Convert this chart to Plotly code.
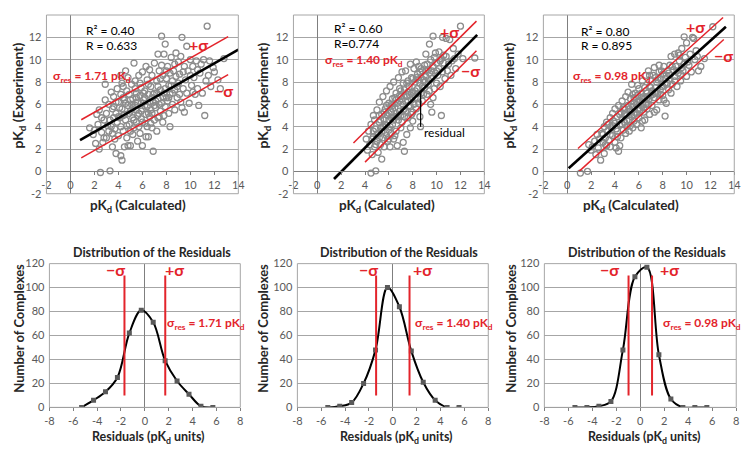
import plotly.graph_objects as go

# ---------------- data: scatter panels (pKd calculated vs experiment) ----------------
calc_1 = [1.6,1.9,2.0,2.1,2.2,2.3,2.4,2.5,2.6,2.4,2.8,2.7,2.9,2.9,2.8,
          3.0,3.1,3.2,3.3,3.2,3.4,3.5,3.5,3.6,3.7,3.6,3.8,3.8,3.9,3.9,4.0,4.0,3.7,3.3,3.5,
          4.1,4.2,4.2,4.3,4.3,4.4,4.4,4.5,4.5,4.6,4.6,4.7,4.7,4.8,4.8,4.9,4.9,5.0,5.0,5.0,4.6,4.4,4.2,4.8,
          5.1,5.2,5.2,5.3,5.3,5.4,5.4,5.5,5.5,5.6,5.6,5.7,5.7,5.8,5.8,5.9,5.9,6.0,6.0,6.0,5.5,5.2,5.9,
          6.1,6.2,6.2,6.3,6.3,6.4,6.4,6.5,6.5,6.6,6.6,6.7,6.7,6.8,6.8,6.9,6.9,7.0,7.0,7.0,6.5,6.2,6.8,
          7.1,7.2,7.2,7.3,7.3,7.4,7.4,7.5,7.5,7.6,7.6,7.7,7.7,7.8,7.8,7.9,7.9,8.0,8.0,7.3,
          8.1,8.2,8.2,8.3,8.3,8.4,8.5,8.5,8.6,8.7,8.7,8.8,8.8,8.9,9.0,9.0,
          9.1,9.2,9.2,9.3,9.3,9.4,9.5,9.5,9.6,9.7,9.7,9.8,9.9,10.0,10.0,
          10.1,10.2,10.3,10.4,10.5,10.6,10.7,10.8,10.9,11.0,11.1,11.2,11.3,
          11.4,11.5,11.7,11.9,12.0,12.3,12.8,11.6,12.5,
          4.1,4.3,4.5,4.7,4.9,5.1,5.3,5.5,5.7,5.9,6.1,6.3,6.5,6.7,6.9,7.1,7.3,7.5,7.7,7.9,
          8.1,8.3,8.5,8.7,8.9,3.4,3.6,3.8,4.0,4.2,5.0,5.2,5.4,5.6,5.8,6.0,6.2,6.4,6.6,6.8,
          7.0,7.2,7.4,7.6,7.8,8.0,8.2,8.4,9.1,9.4,10.2,10.6,3.0,2.6,4.4]
exp_1 = [3.9,3.3,3.7,2.5,5.1,4.2,2.0,-0.1,3.5,5.5,4.6,2.6,7.8,6.4,3.0,
         5.2,4.1,3.6,0.05,6.0,7.1,5.6,2.2,4.8,3.8,6.7,5.2,1.6,4.4,7.4,3.2,6.2,2.9,4.6,3.4,
         5.7,4.0,1.4,1.0,7.9,6.6,3.6,5.1,2.2,9.0,4.6,7.2,3.0,5.9,8.4,4.2,6.9,2.3,5.4,3.6,6.1,5.0,8.6,2.3,
         7.8,4.8,6.5,9.7,3.9,5.9,8.1,4.4,7.0,2.7,6.2,5.2,8.6,3.4,6.8,4.7,7.5,5.6,2.3,8.9,5.5,5.7,6.1,
         6.4,4.3,7.2,3.1,9.4,5.8,8.2,3.1,6.9,4.9,9.1,5.5,7.6,3.9,8.6,6.2,1.8,4.6,7.0,9.7,5.2,5.9,6.6,
         5.7,8.1,3.6,6.5,10.5,4.9,9.0,7.3,5.4,12.1,6.1,8.6,4.4,10.5,7.0,5.8,11.4,6.6,8.3,7.6,
         9.4,5.2,7.7,4.0,6.9,10.2,8.1,6.0,9.0,7.3,5.5,10.6,8.5,6.6,9.8,7.9,
         8.7,6.2,10.3,12.0,5.7,7.4,9.4,5.3,8.2,11.2,7.0,9.0,6.1,8.6,10.0,
         7.7,9.4,8.4,6.9,9.9,7.4,5.9,8.8,9.6,7.0,10.0,5.0,8.1,
         13.0,8.6,7.6,9.3,8.9,8.2,10.1,9.9,7.4,
         4.8,5.6,6.4,4.1,5.2,6.0,4.6,6.6,4.0,5.4,7.0,5.1,7.8,4.3,6.9,6.3,4.8,8.3,6.7,7.4,
         6.3,8.8,7.0,9.6,7.6,4.0,5.8,6.2,4.9,6.9,6.4,3.3,7.4,5.0,7.9,4.4,6.6,4.0,6.2,5.2,
         5.9,7.0,6.0,9.5,5.0,9.0,6.6,7.7,6.9,8.9,7.1,9.1,3.0,4.8,7.6]

calc_2 = [4.1,4.2,4.3,4.4,4.5,4.5,4.6,4.7,4.7,4.8,4.9,4.9,5.0,5.0,4.6,4.8,
          5.1,5.1,5.2,5.2,5.3,5.3,5.4,5.4,5.5,5.5,5.6,5.6,5.7,5.7,5.8,5.8,5.9,5.9,6.0,6.0,5.2,5.5,5.8,6.0,
          6.1,6.1,6.2,6.2,6.3,6.3,6.4,6.4,6.5,6.5,6.6,6.6,6.7,6.7,6.8,6.8,6.9,6.9,7.0,7.0,6.3,6.6,6.9,7.0,6.2,6.5,
          7.1,7.1,7.2,7.2,7.3,7.3,7.4,7.4,7.5,7.5,7.6,7.6,7.7,7.7,7.8,7.8,7.9,7.9,8.0,8.0,7.3,7.6,7.9,7.2,
          8.1,8.65,8.2,8.2,8.3,8.3,8.4,8.4,8.5,8.5,8.6,8.6,8.7,8.7,8.8,8.8,8.9,9.0,9.0,8.5,
          9.1,9.1,9.2,9.3,9.3,9.4,9.4,9.5,9.5,9.6,9.6,9.7,9.7,9.8,9.9,9.9,10.0,10.0,
          10.1,10.2,10.2,10.3,10.4,10.4,10.5,10.6,10.7,10.8,10.8,10.9,11.0,10.5,
          11.1,11.2,11.3,11.5,11.6,11.8,12.0,12.2,11.4,13.2,
          5.0,5.2,5.4,5.6,5.8,6.0,6.2,6.4,6.6,6.8,7.0,7.2,7.4,7.6,7.8,8.0,8.2,8.4,8.6,8.8,
          9.0,9.2,9.4,9.6,9.8,10.0,10.3,10.6,5.3,5.7,6.1,6.3,6.7,6.9,7.1,7.3,7.5,7.7,7.9,8.1,
          8.3,8.5,8.7,8.9,9.1,9.3,4.7,4.9,6.5,6.0,8.0,9.7]
exp_2 = [2.9,1.9,3.6,2.4,-0.15,4.2,1.5,3.1,5.0,2.2,0.05,3.8,2.7,5.5,2.9,4.6,
         3.4,1.7,4.4,6.2,2.4,3.9,5.1,1.1,3.0,6.7,4.6,2.2,5.6,3.5,7.2,4.1,2.7,5.0,6.1,3.7,3.0,4.0,5.9,4.6,
         7.6,2.2,5.3,3.4,6.5,4.2,8.0,2.9,5.7,4.9,7.0,3.6,6.1,2.3,4.6,8.4,5.4,7.4,3.9,6.7,5.6,5.2,6.3,5.0,4.8,6.6,
         8.9,4.4,6.0,2.6,1.8,7.3,5.4,9.0,3.3,6.7,8.1,4.8,5.9,7.6,9.6,3.9,6.4,8.4,5.3,7.1,5.6,6.3,7.0,7.9,
         9.2,4.0,6.6,8.0,9.8,5.6,7.4,8.7,6.1,9.4,7.9,4.9,8.4,7.0,9.0,6.3,8.2,9.5,7.5,8.2,
         10.5,8.5,6.9,9.1,7.8,11.4,8.8,6.0,10.0,5.3,8.3,12.1,9.4,7.4,10.6,8.8,9.7,7.9,
         8.6,10.7,9.2,7.6,5.0,10.1,8.9,9.7,8.3,11.9,10.3,9.0,9.6,12.0,
         11.8,8.6,9.9,10.1,9.2,10.5,13.0,10.1,11.0,10.15,
         3.3,5.0,3.6,5.3,3.2,5.2,6.0,4.6,6.4,5.0,7.2,5.5,6.3,7.1,5.8,8.3,7.2,6.5,8.9,7.6,
         8.0,9.6,7.2,9.0,10.2,9.0,9.9,10.4,4.6,4.2,4.0,5.9,4.9,6.8,6.5,4.9,7.9,6.9,5.1,6.0,
         8.4,7.0,9.2,6.9,9.0,8.2,3.6,2.4,3.2,2.9,4.5,6.6]

calc_3 = [1.1,1.7,1.8,2.0,2.1,2.3,2.4,2.5,2.6,
          2.7,2.8,2.9,3.0,3.1,3.2,3.3,3.3,3.4,3.5,3.6,3.6,3.7,3.8,3.8,
          3.9,4.0,4.0,4.1,4.2,4.2,4.3,4.3,4.4,4.5,4.5,4.6,4.6,4.7,4.8,4.8,4.9,4.9,5.0,5.0,4.4,
          5.1,5.1,5.2,5.2,5.3,5.3,5.4,5.4,5.5,5.5,5.6,5.6,5.7,5.7,5.8,5.8,5.9,5.9,6.0,6.0,5.4,5.6,
          6.1,6.1,6.2,6.2,6.3,6.3,6.4,6.4,6.5,6.5,6.6,6.6,6.7,6.7,6.8,6.8,6.9,6.9,7.0,7.0,6.2,6.5,
          7.1,7.1,7.2,7.3,7.3,7.4,7.5,7.5,7.6,7.7,7.7,7.8,7.9,7.9,8.0,8.0,7.4,7.8,
          8.1,8.2,8.2,8.3,8.3,8.4,8.5,8.6,8.6,8.7,8.8,8.9,9.0,9.0,8.5,
          9.1,9.2,9.3,9.3,9.4,9.5,9.6,9.7,9.8,9.8,9.9,10.0,10.0,
          10.2,10.3,10.4,10.6,10.7,10.8,11.0,11.2,11.5,12.2,10.5,
          3.0,3.2,3.4,3.6,3.8,4.0,4.2,4.4,4.6,4.8,5.0,5.2,5.4,5.6,5.8,6.0,6.2,6.4,6.6,6.8,
          7.0,7.2,7.4,7.6,7.8,8.0,8.2,8.4,8.6,8.8,9.0,9.2,9.4,9.6,3.1,4.1,4.7,5.3,5.9,6.3,
          6.9,7.3,7.7,8.1,8.7,9.5,10.1,10.9,5.5,6.7]
exp_3 = [-0.15,0.0,2.4,1.9,2.2,2.7,1.5,3.3,2.1,
         2.9,1.0,3.4,2.6,4.0,3.0,2.3,4.4,3.6,2.8,4.8,2.2,3.9,5.2,3.2,
         4.5,2.6,5.6,3.8,4.9,3.1,1.8,5.9,4.2,5.3,3.0,4.7,6.3,3.7,5.6,4.4,6.7,3.4,5.0,4.0,2.3,
         5.9,7.1,4.6,3.6,5.4,6.5,4.9,7.8,5.8,3.9,6.2,4.5,7.0,5.3,6.0,4.2,6.8,5.6,7.4,4.8,6.0,5.1,
         6.3,5.5,3.9,7.0,6.1,8.1,5.3,6.7,7.5,4.6,6.0,8.6,7.0,5.6,6.4,9.0,7.6,5.1,6.8,8.2,5.9,6.5,
         7.2,5.9,8.6,6.6,9.3,7.5,5.5,8.0,7.0,9.5,6.4,8.3,7.6,9.0,6.8,8.7,8.4,7.3,
         9.4,4.95,7.9,8.6,6.1,9.0,7.3,9.5,8.2,10.3,7.8,9.1,8.5,10.5,8.8,
         9.4,7.6,10.6,8.8,9.9,8.1,11.0,9.0,12.05,9.6,10.2,8.5,11.5,
         9.5,10.5,8.9,11.9,10.0,10.8,9.0,9.4,10.1,12.95,12.0,
         3.3,2.4,4.2,3.3,4.1,4.3,3.6,5.1,4.2,5.1,4.6,5.6,5.3,6.6,5.2,6.2,6.6,5.7,7.2,6.0,
         7.5,6.9,7.0,8.2,6.9,7.6,8.3,7.9,8.6,9.4,8.1,9.0,10.4,9.3,1.6,2.1,5.7,4.1,7.7,4.5,
         8.6,5.3,8.9,6.4,7.0,8.7,9.8,10.3,6.9,6.6]

# regression line (black) and +/- sigma lines (red): endpoints
fit_x = [[0.8, 14.0], [1.4, 13.4], [0.12, 13.3]]
fit_y = [[2.8, 10.9], [-0.68, 12.22], [0.28, 12.94]]
up_x = [[0.9, 13.15], [3.03, 13.34], [0.9, 13.06]]
up_y = [[4.62, 12.07], [2.54, 13.45], [2.05, 13.78]]
lo_x = [[0.9, 13.15], [4.0, 13.34], [0.97, 13.12]]
lo_y = [[1.2, 8.66], [0.83, 10.8], [-0.02, 11.8]]

r2_text = ["R² = 0.40", "R² = 0.60", "R² = 0.80"]
r_text = ["R = 0.633", "R=0.774", "R = 0.895"]
sigma_vals = ["1.71", "1.40", "0.98"]
sigma_num = [1.71, 1.40, 0.98]

# residual illustration (panel 2)
resid_x = [8.66, 8.66]
resid_y = [4.0, 7.1]

# ---------------- data: residual distributions ----------------
bins_1 = [-5.3,-4.3,-3.3,-2.3,-1.3,-0.3,0.7,1.7,2.7,3.7,4.7,5.7]
count_1 = [0,6,13,25,62,81,71,39,22,11,1,0]
bins_2 = [-5.45,-4.45,-3.45,-2.45,-1.45,-0.45,0.55,1.55,2.55,3.55,4.55,5.55]
count_2 = [0,1,4,20,48,100,84,47,21,6,0,0]
bins_3 = [-5.45,-4.45,-3.45,-2.45,-1.45,-0.45,0.55,1.55,2.55,3.55,4.55,5.55]
count_3 = [0,0,1,5,48,109,117,44,7,0,0,0]

top_ticks = [-2,0,2,4,6,8,10,12,14]
top_ticktext = ["-2","0","2","4","6","8","10","12","14"]
bot_xticks = [-8,-6,-4,-2,0,2,4,6,8]
bot_xticktext = ["-8","-6","-4","-2","0","2","4","6","8"]
bot_yticks = [0,20,40,60,80,100,120]

# ---------------- styling ----------------
W, H = 750, 452
OFF = 8  # page body margin offset of the figure in the browser
FONT = "Lato, 'Open Sans', sans-serif"
RED = "#e3242b"
GRID = "#a6a6a6"
AXIS = "#7f7f7f"
TICKC = "#595959"
TITLEC = "#262626"

def px_x(p):
    return min(1.0, max(0.0, (p - OFF) / W))

def px_y(p):
    return min(1.0, max(0.0, 1 - (p - OFF) / H))

top_dom_y = [px_y(192), px_y(8)]
bot_dom_y = [px_y(412), px_y(264)]
top_dom_x = [[px_x(42), px_x(237)], [px_x(293), px_x(487)], [px_x(547), px_x(741)]]
bot_dom_x = [[px_x(45), px_x(239)], [px_x(297), px_x(491)], [px_x(548), px_x(743)]]

fig = go.Figure()
layout = dict(width=W, height=H, margin=dict(l=0, r=0, t=0, b=0), autosize=False,
              paper_bgcolor="white", plot_bgcolor="white", showlegend=False,
              font=dict(family=FONT, color=TITLEC))
annotations = []
shapes = []

scatter_x = [calc_1, calc_2, calc_3]
scatter_y = [exp_1, exp_2, exp_3]

zero_pos = top_dom_y[0] + (0 - (-2)) / 16 * (top_dom_y[1] - top_dom_y[0])

for i in range(3):
    n = i + 1
    xa = "x" if n == 1 else f"x{n}"
    ya = "y" if n == 1 else f"y{n}"
    fig.add_trace(go.Scatter(x=scatter_x[i], y=scatter_y[i], mode="markers", xaxis=xa, yaxis=ya,
                             marker=dict(symbol="circle-open", size=6, color="#8c8c8c",
                                         line=dict(width=1.3, color="#8c8c8c")),
                             hoverinfo="skip"))
    fig.add_trace(go.Scatter(x=fit_x[i], y=fit_y[i], mode="lines", xaxis=xa, yaxis=ya,
                             line=dict(color="black", width=2.6), hoverinfo="skip"))
    fig.add_trace(go.Scatter(x=up_x[i], y=up_y[i], mode="lines", xaxis=xa, yaxis=ya,
                             line=dict(color=RED, width=1.5), hoverinfo="skip"))
    fig.add_trace(go.Scatter(x=lo_x[i], y=lo_y[i], mode="lines", xaxis=xa, yaxis=ya,
                             line=dict(color=RED, width=1.5), hoverinfo="skip"))
    sfx = "" if n == 1 else str(n)
    layout["xaxis" + sfx] = dict(domain=top_dom_x[i], range=[-2, 14], anchor="free", position=zero_pos,
                                 tickvals=top_ticks, ticktext=top_ticktext, showgrid=False,
                                 zeroline=True, zerolinecolor=AXIS, zerolinewidth=1,
                                 showline=True, linecolor=AXIS, linewidth=1,
                                 ticks="outside", ticklen=3, tickcolor=AXIS,
                                 tickfont=dict(size=11, color=TICKC, family=FONT), fixedrange=True)
    layout["yaxis" + sfx] = dict(domain=top_dom_y, range=[-2, 14], anchor=xa,
                                 tickvals=top_ticks, ticktext=top_ticktext, showgrid=True,
                                 gridcolor=GRID, gridwidth=1, zeroline=False,
                                 showline=False, ticks="", ticklabelstandoff=4,
                                 tickfont=dict(size=11, color=TICKC, family=FONT), fixedrange=True)
    shapes.append(dict(type="rect", xref=f"{xa} domain", yref=f"{ya} domain", x0=0, x1=1, y0=0, y1=1,
                       line=dict(color=GRID, width=1), layer="above"))

fig.add_trace(go.Scatter(x=resid_x, y=resid_y, mode="lines", xaxis="x2", yaxis="y2",
                         line=dict(color="black", width=1.2), hoverinfo="skip"))

r2_pos = [(1.1, 12.6, 11.3), (1.25, 12.75, 11.45), (0.97, 12.55, 11.25)]
plus_pos = [(10.7, 11.4), (11.06, 12.56), (10.78, 13.0)]
minus_pos = [(12.8, 7.2), (12.8, 9.0), (13.1, 10.4)]
sig_left = [(-1.6, 8.5), (0.45, 9.95), (0.3, 8.5)]
for i in range(3):
    n = i + 1
    xa = "x" if n == 1 else f"x{n}"
    ya = "y" if n == 1 else f"y{n}"
    x0, ya1, ya2 = r2_pos[i]
    annotations.append(dict(x=x0, y=ya1, xref=xa, yref=ya, text=r2_text[i], showarrow=False,
                            xanchor="left", yanchor="middle", font=dict(size=12, color="black", family=FONT)))
    annotations.append(dict(x=x0, y=ya2, xref=xa, yref=ya, text=r_text[i], showarrow=False,
                            xanchor="left", yanchor="middle", font=dict(size=12, color="black", family=FONT)))
    annotations.append(dict(x=plus_pos[i][0], y=plus_pos[i][1], xref=xa, yref=ya, text="<b>+σ</b>",
                            showarrow=False, xanchor="center", yanchor="middle",
                            font=dict(size=16, color=RED, family=FONT)))
    annotations.append(dict(x=minus_pos[i][0], y=minus_pos[i][1], xref=xa, yref=ya, text="<b>−σ</b>",
                            showarrow=False, xanchor="center", yanchor="middle",
                            font=dict(size=16, color=RED, family=FONT)))
    annotations.append(dict(x=sig_left[i][0], y=sig_left[i][1], xref=xa, yref=ya,
                            text=f"<b>σ<sub>res</sub> = {sigma_vals[i]} pK<sub>d</sub></b>",
                            showarrow=False, xanchor="left", yanchor="middle",
                            font=dict(size=12, color=RED, family=FONT)))
annotations.append(dict(x=10.65, y=3.5, xref="x2", yref="y2", text="residual", showarrow=False,
                        xanchor="center", yanchor="middle", font=dict(size=12, color="black", family=FONT)))

# ---------------- bottom panels ----------------
bins = [bins_1, bins_2, bins_3]
counts = [count_1, count_2, count_3]
minus_lbl_x = [-2.5, -2.05, -2.6]
plus_lbl_x = [2.45, 2.5, 2.45]
for i in range(3):
    n = i + 4
    xa = f"x{n}"
    ya = f"y{n}"
    fig.add_trace(go.Scatter(x=bins[i], y=counts[i], mode="lines+markers", xaxis=xa, yaxis=ya,
                             line=dict(color="black", width=2, shape="spline", smoothing=1.0),
                             marker=dict(symbol="square", size=5, color="#595959"),
                             hoverinfo="skip", cliponaxis=True))
    s = sigma_num[i]
    fig.add_trace(go.Scatter(x=[-s, -s], y=[10, 110], mode="lines", xaxis=xa, yaxis=ya,
                             line=dict(color=RED, width=2), hoverinfo="skip"))
    fig.add_trace(go.Scatter(x=[s, s], y=[10, 110], mode="lines", xaxis=xa, yaxis=ya,
                             line=dict(color=RED, width=2), hoverinfo="skip"))
    layout[f"xaxis{n}"] = dict(domain=bot_dom_x[i], range=[-8, 8], anchor=ya,
                               tickvals=bot_xticks, ticktext=bot_xticktext, showgrid=False,
                               zeroline=True, zerolinecolor=AXIS, zerolinewidth=1,
                               showline=True, linecolor=AXIS, linewidth=1,
                               ticks="outside", ticklen=3, tickcolor=AXIS,
                               tickfont=dict(size=11, color=TICKC, family=FONT), fixedrange=True)
    layout[f"yaxis{n}"] = dict(domain=bot_dom_y, range=[0, 120], anchor=xa,
                               tickvals=bot_yticks, showgrid=True, gridcolor=GRID, gridwidth=1,
                               zeroline=False, showline=False, ticks="", ticklabelstandoff=4,
                               tickfont=dict(size=11, color=TICKC, family=FONT), fixedrange=True)
    shapes.append(dict(type="rect", xref=f"{xa} domain", yref=f"{ya} domain", x0=0, x1=1, y0=0, y1=1,
                       line=dict(color=GRID, width=1), layer="above"))
    annotations.append(dict(x=minus_lbl_x[i], y=115, xref=xa, yref=ya, text="<b>−σ</b>", showarrow=False,
                            xanchor="center", yanchor="middle", font=dict(size=16, color=RED, family=FONT)))
    annotations.append(dict(x=plus_lbl_x[i], y=115, xref=xa, yref=ya, text="<b>+σ</b>", showarrow=False,
                            xanchor="center", yanchor="middle", font=dict(size=16, color=RED, family=FONT)))
    annotations.append(dict(x=5.15, y=70, xref=xa, yref=ya,
                            text=f"<b>σ<sub>res</sub> = {sigma_vals[i]} pK<sub>d</sub></b>",
                            showarrow=False, xanchor="center", yanchor="middle",
                            font=dict(size=12, color=RED, family=FONT)))

# ---------------- axis titles ----------------
top_xt = [135, 388, 636]
top_yt = [14, 263, 513]
bot_yt = [14, 262, 514]
bot_xt = [146, 398, 650]
bot_tt = [149, 400, 652]
for i in range(3):
    annotations.append(dict(x=px_x(top_xt[i]), y=px_y(205), xref="paper", yref="paper",
                            xanchor="center", yanchor="middle",
                            text="<b>pK<sub>d</sub> (Calculated)</b>", showarrow=False,
                            font=dict(size=13.5, color=TITLEC, family=FONT)))
    annotations.append(dict(x=px_x(top_yt[i]), y=px_y(91), xref="paper", yref="paper",
                            xanchor="center", yanchor="middle",
                            text="<b>pK<sub>d</sub> (Experiment)</b>", showarrow=False, textangle=-90,
                            font=dict(size=14, color=TITLEC, family=FONT)))
    annotations.append(dict(x=px_x(bot_xt[i]), y=px_y(443), xref="paper", yref="paper",
                            xanchor="center", yanchor="middle",
                            text="<b>Residuals (pK<sub>d</sub> units)</b>", showarrow=False,
                            font=dict(size=12.5, color=TITLEC, family=FONT)))
    annotations.append(dict(x=px_x(bot_yt[i]), y=px_y(330), xref="paper", yref="paper",
                            xanchor="center", yanchor="middle",
                            text="<b>Number of Complexes</b>", showarrow=False, textangle=-90,
                            font=dict(size=13, color=TITLEC, family=FONT)))
    annotations.append(dict(x=px_x(bot_tt[i]), y=px_y(253), xref="paper", yref="paper",
                            xanchor="center", yanchor="middle",
                            text="<b>Distribution of the Residuals</b>", showarrow=False,
                            font=dict(size=12.5, color=TITLEC, family=FONT)))

layout["annotations"] = annotations
layout["shapes"] = shapes
fig.update_layout(**layout)
fig.write_html("out.html", config={"displayModeBar": False})
